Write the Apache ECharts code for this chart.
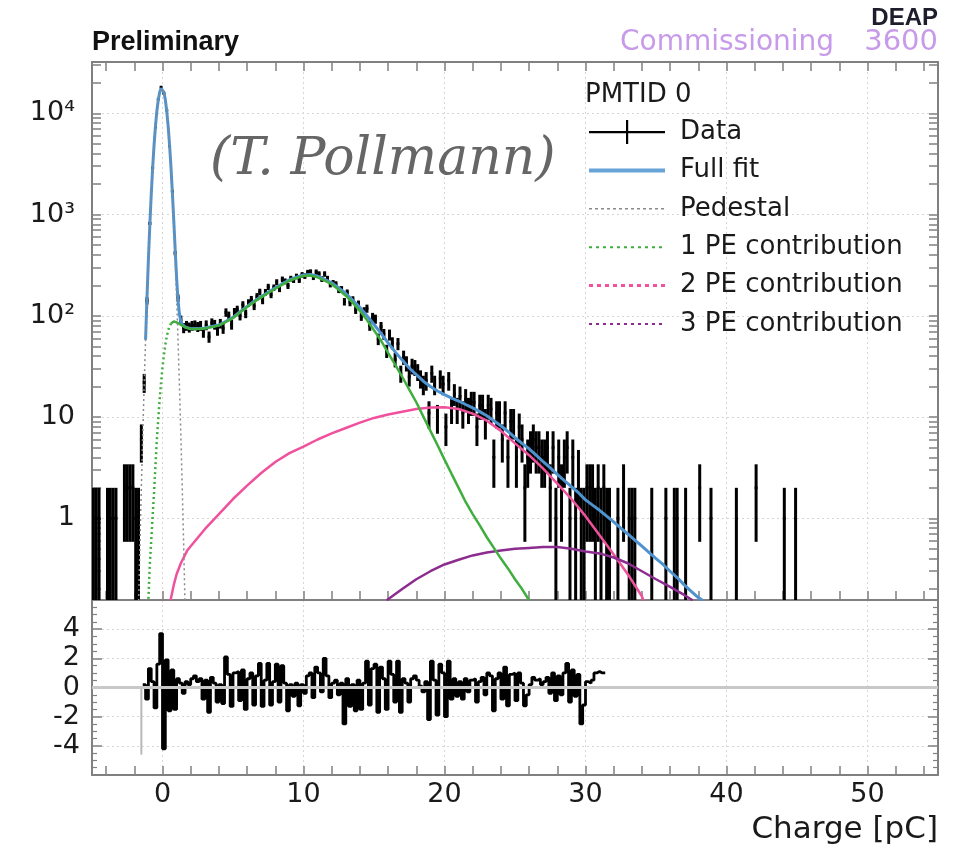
<!DOCTYPE html>
<html>
<head>
<meta charset="utf-8">
<script src="https://cdn.jsdelivr.net/npm/echarts@6/dist/echarts.min.js"></script>
<style>
html,body{margin:0;padding:0;background:#ffffff;}
#c{width:961px;height:851px;}
</style>
</head>
<body>
<div id="c"></div>
<script>
// ---------------- data ----------------
// Histogram binning of the charge spectrum (pC)
const binLow = -5.0;
const binWidth = 0.2;
// Counts per bin, one row per pC (bin centres k+0.1 ... k+0.9)
const counts = [
  1,1,1,0,0,            // -5
  1,1,1,1,0,            // -4
  0,2,2,2,2,            // -3
  1,1,6,22,141,         // -2
  818,2888,7293,13787,18123, // -1
  15657,10737,4776,1698,416, // 0
  150,91,76,80,77,      // 1
  80,81,78,80,69,       // 2
  81,62,85,82,72,       // 3
  84,75,108,100,82,     // 4
  109,115,100,128,105,  // 5
  134,145,125,155,172,  // 6
  142,171,193,162,190,  // 7
  215,185,229,219,198,  // 8
  233,226,245,226,254,  // 9
  247,268,271,241,270,  // 10
  259,231,259,233,205,  // 11
  211,205,181,183,138,  // 12
  169,136,144,115,130,  // 13
  99,111,118,80,97,     // 14
  93,59,78,66,45,       // 15
  65,54,37,53,27,       // 16
  39,34,25,32,31,       // 17
  28,24,21,23,11,       // 18
  27,21,10,24,21,       // 19
  8,23,12,17,12,        // 20
  16,11,15,12,14,       // 21
  14,8,13,13,9,         // 22
  13,12,4,11,11,        // 23
  6,11,4,9,9,           // 24
  4,8,6,2,4,            // 25
  5,6,5,5,4,            // 26
  4,5,2,5,1,            // 27
  4,2,4,5,1,            // 28
  4,1,3,1,1,            // 29
  2,2,2,1,2,            // 30
  1,2,1,1,0,            // 31
  0,1,0,2,0,            // 32
  1,1,1,0,0,            // 33
  0,0,0,1,0,            // 34
  0,0,0,1,0,            // 35
  0,1,1,0,0,            // 36
  1,0,0,0,0,            // 37
  2,0,0,0,1,            // 38
  0,0,0,0,0,            // 39
  0,0,0,1,0,            // 40
  0,0,0,0,0,            // 41
  2,0,0,0,0,            // 42
  0,0,0,0,0,            // 43
  1,0,0,0,1             // 44
];

// Residuals (data - fit)/sigma, starting at histogram bin index 18 (centre -1.3 pC)
const residualFirstBin = 18;
const residuals = [
  0.2,-0.8,
  1.3,0.4,-1.4,1.6,3.7,
  -4.2,1.9,-1.6,1.2,-1.5,
  0.6,0.3,-0.4,0.4,0.2,
  0.6,0.8,0.4,0.6,-0.8,
  0.5,-1.7,0.7,0.3,-1.0,
  0.2,-1.1,2.1,0.9,-1.3,
  1.0,1.1,-0.9,1.2,-1.5,
  0.6,1.0,-1.2,0.8,1.65,
  -1.3,0.5,1.65,-1.2,0.4,
  1.6,-1.0,1.5,0.3,-1.6,
  0.2,-0.6,0.3,-1.25,0.2,
  -0.4,0.8,1.0,-0.7,1.4,
  1.0,-0.3,2.0,0.8,-0.7,
  0.3,0.5,-0.5,0.3,-2.5,
  0.6,-1.3,0.2,-1.6,0.5,
  -1.5,0.3,1.8,-1.2,1.3,
  1.6,-1.7,1.4,0.6,-1.5,
  1.8,0.9,-1.0,1.8,-1.7,
  0.6,0.3,-1.0,0.6,0.8,
  0.5,0.1,-0.3,0.4,-2.2,
  1.8,0.5,-1.9,1.6,1.0,
  -2.0,1.8,-0.8,0.6,-0.6,
  0.4,-0.8,0.6,-0.3,0.5,
  0.6,-1.0,0.4,0.7,-0.5,
  1.0,0.8,-1.6,0.6,1.0,
  -0.8,1.4,-1.25,0.9,1.0,
  -0.9,1.0,0.3,-1.25,-0.5,
  0.2,0.7,0.5,0.6,0.2,
  0.4,0.7,-0.4,1.0,-0.9,
  0.8,-0.5,1.0,1.65,-1.0,
  1.2,-0.6,0.9,-2.5,-1.2,
  0.4,0.3,0.5,1.0,1.1,
  1.0,1.0
];
// Residual of the bin just outside the fit range (drawn grey)
const residualOutsideBin = 17;
const residualOutside = -4.6;

// Fit curves: [charge pC, counts]
const pedestalCurve = [
  [-1.7,0.136],[-1.6,0.55],[-1.5,2.0],[-1.4,6.7],[-1.3,20.6],[-1.2,58],[-1.1,151],[-1.0,360],
  [-0.9,782],[-0.8,1562],[-0.7,2866],[-0.6,4810],[-0.5,7410],[-0.4,10480],[-0.3,13590],[-0.2,16150],
  [-0.1,17610],[-0.05,17800],[0.0,17610],[0.1,16150],[0.2,13590],[0.3,10480],[0.4,7410],[0.5,4810],
  [0.6,2866],[0.7,1562],[0.8,782],[0.9,360],[1.0,151],[1.1,58],[1.2,20.6],[1.3,6.7],[1.4,2.0],
  [1.5,0.55],[1.6,0.136]
];
const fullFitCurve = [
  [-1.2,58],[-1.1,151],[-1.0,360],[-0.9,782],[-0.8,1563],[-0.7,2867],[-0.6,4812],[-0.5,7413],
  [-0.4,10486],[-0.3,13600],[-0.2,16165],[-0.1,17632],[-0.05,17825],[0.0,17641],[0.1,16191],
  [0.2,13642],[0.3,10542],[0.4,7482],[0.5,4888],[0.6,2950],[0.7,1649],[0.8,870],[0.9,448],
  [1.0,237],[1.1,143],[1.2,104],[1.3,88],[1.4,82.4],[1.5,79.5],[1.6,77.6],[2.0,74.6],[2.5,74.7],
  [3.0,75.8],[3.5,78.4],[4.0,81.1],[4.5,88.3],[5.0,96.5],[5.5,109.7],[6.0,124],[6.5,139.5],
  [7.0,155],[7.5,171],[8.0,188.6],[8.5,207],[9.0,226.4],[9.5,240.5],[10.0,253],[10.5,255.5],
  [11.0,246],[11.5,228.5],[12.0,212],[12.5,188],[13.0,166],[13.5,142],[14.0,121],[14.5,100],
  [15.0,82],[15.5,67],[16.0,54],[16.5,44],[17.0,36.5],[17.5,30.5],[18.0,26.2],[18.5,22.6],
  [19.0,20],[19.5,18.1],[20.0,16.65],[20.5,15.4],[21.0,14.4],[21.5,13.3],[22.0,12.3],[22.5,11.3],
  [23.0,10.3],[23.5,9.2],[24.0,8.2],[24.5,7.2],[25.0,6.25],[25.5,5.5],[26.0,4.86],[26.5,4.2],
  [27.0,3.62],[27.5,3.15],[28.0,2.72],[28.5,2.36],[29.0,2.05],[29.5,1.79],[30.0,1.52],[30.5,1.35],
  [31.0,1.2],[31.5,1.05],[32.0,0.92],[32.5,0.8],[33.0,0.7],[33.5,0.61],[34.0,0.53],[34.5,0.46],
  [35.0,0.4],[35.5,0.35],[36.0,0.3],[36.5,0.26],[37.0,0.22],[37.5,0.19],[38.0,0.165],[38.3,0.155]
];
const pe1LowCurve = [
  [-1.0,0.16],[-0.9,0.35],[-0.8,0.6],[-0.7,1.05],[-0.6,1.8],[-0.5,3.3],[-0.4,6],[-0.3,9.5],
  [-0.2,15],[-0.1,22],[0.0,31],[0.1,41],[0.2,52],[0.3,62],[0.4,72],[0.5,78],[0.6,84]
];
const pe1Curve = [
  [0.6,84],[0.7,86.5],[0.8,88],[0.9,87.5],[1.0,86],[1.2,83],[1.4,80],[1.6,77],[2.0,74],[2.5,74],
  [3.0,75],[3.5,77.5],[4.0,80],[4.5,87],[5.0,95],[5.5,108],[6.0,122],[6.5,137],[7.0,152],
  [7.5,168],[8.0,185],[8.5,203],[9.0,222],[9.5,236],[10.0,248],[10.5,250],[11.0,240],[11.5,222],
  [12.0,205],[12.5,181],[13.0,158],[13.5,134],[14.0,112],[14.5,91],[15.0,72],[15.5,57],[16.0,43],
  [16.5,33],[17.0,25],[17.5,18.7],[18.0,14],[18.5,10.1],[19.0,7.3],[19.5,5.3],[20.0,3.8],
  [20.5,2.75],[21.0,2.0],[21.5,1.45],[22.0,1.1],[22.5,0.85],[23.0,0.65],[23.5,0.51],[24.0,0.4],
  [24.5,0.32],[25.0,0.25],[25.5,0.2],[26.0,0.155]
];
const pe2Curve = [
  [0.57,0.155],[0.8,0.22],[1.0,0.28],[1.3,0.36],[1.75,0.48],[2,0.53],[3,0.78],[4,1.1],[5,1.55],
  [6,2.1],[7,2.8],[8,3.6],[9,4.4],[10,5.1],[11,6.0],[12,6.9],[13,7.8],[14,8.8],[15,9.8],[16,10.6],
  [17,11.3],[18,12.0],[19,12.4],[20,12.5],[21,12.0],[22,10.8],[23,9.2],[24,7.3],[25,5.5],[26,4.2],
  [27,3.1],[28,2.2],[29,1.55],[30,1.05],[31,0.68],[32,0.44],[33,0.28],[34,0.17],[34.1,0.155]
];
const pe3Curve = [
  [15.9,0.155],[17,0.2],[18,0.25],[19,0.3],[20,0.35],[21,0.39],[22,0.43],[23,0.46],[24,0.48],
  [25,0.5],[26,0.51],[27,0.52],[28,0.52],[29,0.5],[30,0.47],[31,0.45],[32,0.41],[33,0.36],
  [34,0.3],[35,0.25],[36,0.21],[37,0.175],[37.6,0.155]
];

// Tick labels
const xTickLabels = [0,10,20,30,40,50];
const yTickLabels = [1,10,100,1000,10000];
const resTickLabels = [-4,-2,0,2,4];

// ---------------- styling ----------------
const BLUE = '#4e93d0', GREEN = '#3fae3f', PINK = '#f0519c', PURPLE = '#8c2c8e';
const FRAME = '#808080', GRIDC = '#d6d6d6';
const FONT = '"DejaVu Sans", sans-serif';
const Y_MIN = 0.156, Y_MAX = 32100;

const binCenter = i => +(binLow + (i + 0.5) * binWidth).toFixed(3);
const dataPoints = [];
counts.forEach((n, i) => { if (n > 0) dataPoints.push([binCenter(i), n]); });
const residualStep = [];
residuals.forEach((r, k) => {
  const c = binCenter(residualFirstBin + k);
  residualStep.push([+(c - binWidth / 2).toFixed(3), r], [+(c + binWidth / 2).toFixed(3), r]);
});
const outsideX = binCenter(residualOutsideBin);

// axis decoration ticks
const evenTicks = [];
for (let v = -4; v <= 54; v += 2) evenTicks.push(v);
const logTicks = [];
for (let e = -1; e <= 4; e++) for (let m = 1; m <= 9; m++) {
  const v = +(m * Math.pow(10, e)).toPrecision(3);
  if (v >= Y_MIN && v <= Y_MAX) logTicks.push(v);
}
const SUP = ['\u2070','\u00b9','\u00b2','\u00b3','\u2074','\u2075'];

const frameLine = { show: true, onZero: false, lineStyle: { color: FRAME, width: 2 } };
const gridLine = { show: true, lineStyle: { color: GRIDC, type: [2, 3], width: 1 } };
const noLine = { show: false };
const xTick = { show: true, inside: true, length: 9, customValues: evenTicks, lineStyle: { color: FRAME, width: 1.5 } };
const logTick = { show: true, inside: true, length: 9, customValues: logTicks, lineStyle: { color: FRAME, width: 1.5 } };
const resTick = { show: true, inside: true, length: 10, lineStyle: { color: FRAME, width: 1.5 } };
const resMinor = { show: true, splitNumber: 4, length: 5, lineStyle: { color: FRAME, width: 1.2 } };
// axes that only carry the major grid lines
const gridOnlyX = g => ({ gridIndex: g, type: 'value', position: 'bottom', min: -5, max: 55, splitNumber: 6,
  axisLine: noLine, axisTick: noLine, axisLabel: noLine, splitLine: gridLine });

const chart = echarts.init(document.getElementById('c'), null, { renderer: 'canvas' });
chart.setOption({
  animation: false,
  backgroundColor: '#ffffff',
  textStyle: { fontFamily: FONT },
  grid: [
    { left: 92, top: 62, width: 846, height: 538, outerBoundsMode: 'none' },
    { left: 92, top: 600, width: 846, height: 175, outerBoundsMode: 'none' }
  ],
  xAxis: [
    { gridIndex: 0, type: 'value', position: 'bottom', min: -5, max: 55, splitNumber: 6,
      axisLine: frameLine, axisTick: xTick, axisLabel: { show: false }, splitLine: noLine },
    { gridIndex: 0, type: 'value', position: 'top', min: -5, max: 55, splitNumber: 6,
      axisLine: frameLine, axisTick: xTick, axisLabel: { show: false }, splitLine: noLine },
    { gridIndex: 1, type: 'value', position: 'bottom', min: -5, max: 55, splitNumber: 6,
      axisLine: frameLine, axisTick: xTick, splitLine: noLine,
      axisLabel: { show: true, customValues: xTickLabels, fontFamily: FONT, fontSize: 27, color: '#1a1a1a', margin: 6 },
      name: 'Charge [pC]', nameLocation: 'end', nameGap: 0,
      nameTextStyle: { fontFamily: FONT, fontSize: 31, color: '#1a1a1a', align: 'right', verticalAlign: 'top', padding: [39, 0, 0, 0] } },
    gridOnlyX(0),
    gridOnlyX(1)
  ],
  yAxis: [
    { gridIndex: 0, type: 'log', logBase: 10, position: 'left', min: Y_MIN, max: Y_MAX,
      axisLine: frameLine, axisTick: logTick, splitLine: noLine, minorTick: { show: false },
      axisLabel: { show: true, customValues: yTickLabels, fontFamily: FONT, fontSize: 27, color: '#1a1a1a', margin: 17,
        formatter: v => { const e = Math.round(Math.log10(v)); return e === 0 ? '1' : (e === 1 ? '10' : '10' + SUP[e]); } } },
    { gridIndex: 0, type: 'log', logBase: 10, position: 'right', min: Y_MIN, max: Y_MAX,
      axisLine: frameLine, axisTick: logTick, splitLine: noLine, axisLabel: { show: false } },
    { gridIndex: 1, type: 'value', position: 'left', min: -6, max: 6, interval: 2,
      axisLine: frameLine, axisTick: resTick, minorTick: resMinor, splitLine: gridLine,
      axisLabel: { show: true, customValues: resTickLabels, fontFamily: FONT, fontSize: 27, color: '#1a1a1a', margin: 12 } },
    { gridIndex: 1, type: 'value', position: 'right', min: -6, max: 6, interval: 2,
      axisLine: frameLine, axisTick: resTick, minorTick: resMinor, splitLine: noLine, axisLabel: { show: false } },
    { gridIndex: 0, type: 'log', logBase: 10, position: 'left', min: Y_MIN, max: Y_MAX,
      axisLine: noLine, axisTick: noLine, axisLabel: noLine, splitLine: gridLine }
  ],
  legend: {
    orient: 'vertical', left: 587, top: 119, padding: 0,
    itemWidth: 76, itemHeight: 24, itemGap: 12.4, selectedMode: false,
    textStyle: { fontFamily: FONT, fontSize: 26, color: '#1a1a1a', lineHeight: 24, padding: [0, 0, 0, 10] },
    data: [
      { name: 'Data', icon: 'path://M0,11h76v2.2h-76z M37,0h2.2v24h-2.2z', itemStyle: { color: '#000' } },
      { name: 'Full fit', itemStyle: { opacity: 0 }, lineStyle: { color: BLUE, width: 4, type: 'solid', opacity: 0.85 } },
      { name: 'Pedestal', itemStyle: { opacity: 0 }, lineStyle: { color: '#8a8a8a', width: 1.5, type: [3, 3] } },
      { name: '1 PE contribution', itemStyle: { opacity: 0 }, lineStyle: { color: GREEN, width: 2, type: [3, 4] } },
      { name: '2 PE contribution', itemStyle: { opacity: 0 }, lineStyle: { color: PINK, width: 3, type: [4, 4] } },
      { name: '3 PE contribution', itemStyle: { opacity: 0 }, lineStyle: { color: PURPLE, width: 2, type: [3, 4] } }
    ]
  },
  graphic: [
    { type: 'text', left: 92, top: 29, style: { text: 'Preliminary', font: 'bold 27px "Liberation Sans", sans-serif', fill: '#111' } },
    { type: 'text', right: 23, top: 6, style: { text: 'DEAP', font: 'bold 24px "Liberation Sans", sans-serif', fill: '#1d1d2b' } },
    { type: 'text', left: 620, top: 29, style: { text: 'Commissioning', font: '28px "DejaVu Sans", sans-serif', fill: '#c79be9' } },
    { type: 'text', right: 23, top: 28, style: { text: '3600', font: '29px "DejaVu Sans", sans-serif', fill: '#c79be9' } },
    { type: 'text', left: 585, top: 82, style: { text: 'PMTID 0', font: '26px "DejaVu Sans", sans-serif', fill: '#1a1a1a' } },
    { type: 'text', left: 210, top: 134, z: 100, style: { text: '(T. Pollmann)', font: 'italic 52px "DejaVu Serif", serif', fill: '#666666' } }
  ],
  series: [
    { name: 'Data', type: 'custom', xAxisIndex: 0, yAxisIndex: 0, data: dataPoints, clip: true, z: 2,
      itemStyle: { color: '#000' }, silent: true,
      renderItem: function (params, api) {
        const x = api.value(0), n = api.value(1), e = Math.sqrt(n);
        const pL = api.coord([x - binWidth / 2, n]);
        const pR = api.coord([x + binWidth / 2, n]);
        const pT = api.coord([x, n + e]);
        const pB = api.coord([x, Math.max(n - e, Y_MIN / 10)]);
        return { type: 'group', children: [
          { type: 'line', shape: { x1: pL[0], y1: pL[1], x2: pR[0], y2: pR[1] }, style: { stroke: '#000', lineWidth: 2.8 } },
          { type: 'line', shape: { x1: pT[0], y1: pT[1], x2: pB[0], y2: pB[1] }, style: { stroke: '#000', lineWidth: 3 } }
        ] };
      } },
    { name: 'Full fit', type: 'line', xAxisIndex: 0, yAxisIndex: 0, data: fullFitCurve, symbol: 'none', clip: true, z: 3,
      lineStyle: { color: BLUE, width: 3 }, itemStyle: { color: BLUE }, silent: true },
    { name: '2 PE contribution', type: 'line', xAxisIndex: 0, yAxisIndex: 0, data: pe2Curve, symbol: 'none', clip: true, z: 4,
      lineStyle: { color: PINK, width: 2.5 }, itemStyle: { color: PINK }, silent: true },
    { name: '3 PE contribution', type: 'line', xAxisIndex: 0, yAxisIndex: 0, data: pe3Curve, symbol: 'none', clip: true, z: 4,
      lineStyle: { color: PURPLE, width: 2.5 }, itemStyle: { color: PURPLE }, silent: true },
    { name: '1 PE contribution', type: 'line', xAxisIndex: 0, yAxisIndex: 0, data: pe1LowCurve, symbol: 'none', clip: true, z: 5,
      lineStyle: { color: GREEN, width: 2.5, type: [2, 3] }, itemStyle: { color: GREEN }, silent: true },
    { name: '1 PE contribution', type: 'line', xAxisIndex: 0, yAxisIndex: 0, data: pe1Curve, symbol: 'none', clip: true, z: 5,
      lineStyle: { color: GREEN, width: 2.5 }, itemStyle: { color: GREEN }, silent: true },
    { name: 'Pedestal', type: 'line', xAxisIndex: 0, yAxisIndex: 0, data: pedestalCurve, symbol: 'none', clip: true, z: 6,
      lineStyle: { color: '#8a8a8a', width: 1.5, type: [2, 3] }, itemStyle: { color: '#8a8a8a' }, silent: true },
    { name: 'Residual outside fit', type: 'line', xAxisIndex: 2, yAxisIndex: 2,
      data: [[outsideX, 0], [outsideX, residualOutside]], symbol: 'none', z: 2,
      lineStyle: { color: '#b8b8b8', width: 2 }, silent: true },
    { name: 'Residual', type: 'line', xAxisIndex: 2, yAxisIndex: 2, data: residualStep, symbol: 'none', clip: true, z: 3,
      lineStyle: { color: '#000', width: 2.8 }, silent: true,
      markLine: { silent: true, symbol: 'none', label: { show: false }, animation: false,
        lineStyle: { color: '#c8c8c8', width: 3, type: 'solid' }, data: [{ yAxis: 0 }] } }
  ]
});
</script>
</body>
</html>
